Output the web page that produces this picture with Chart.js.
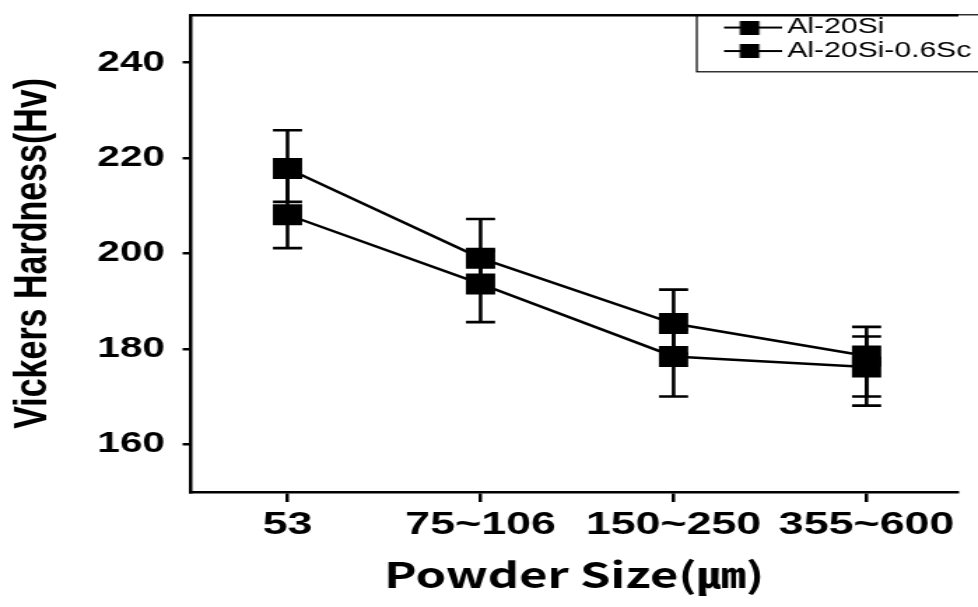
<!DOCTYPE html>
<html>
<head>
<meta charset="utf-8">
<script src="https://cdn.jsdelivr.net/npm/chart.js@4"></script>
<style>
  html, body { margin: 0; padding: 0; background: #fff; overflow: hidden; }
  #chart { display: block; }
</style>
</head>
<body>
<!-- 元図は横に引き伸ばされているので、狭いキャンバスをCSSで横に広げる -->
<canvas id="chart" width="699" height="607" style="width:978px;height:607px"></canvas>
<script>
// 粉末サイズ（カテゴリ）
const SIZES = ['53', '75~106', '150~250', '355~600'];
const Y_TICKS = [160, 180, 200, 220, 240];

// Al-20Si
const AL20SI = [208.1, 193.6, 178.4, 176.2];
const AL20SI_LO = [201.1, 185.6, 170.0, 168.1];
const AL20SI_HI = [216.0, 200.5, 184.0, 182.6];

// Al-20Si-0.6Sc
const AL20SI_SC = [217.8, 199.0, 185.3, 178.5];
const AL20SI_SC_LO = [210.8, 192.5, 179.0, 170.0];
const AL20SI_SC_HI = [225.8, 207.2, 192.4, 184.6];

const FONT = "'Liberation Sans', Arial, sans-serif";
const CAP = 10.4;

// 凡例用シンボル（線＋四角）
function legendSymbol() {
  const c = document.createElement('canvas');
  c.width = 47;
  c.height = 14;
  const g = c.getContext('2d');
  g.fillStyle = '#000';
  g.fillRect(0, 6, 47, 2);
  g.fillRect(16.5, 0, 14, 14);
  return c;
}
const SYMBOL = legendSymbol();

// エラーバー
const errorBars = {
  id: 'errorBars',
  beforeDatasetsDraw(chart) {
    const { ctx, scales: { x, y } } = chart;
    ctx.save();
    ctx.strokeStyle = '#000';
    ctx.lineWidth = 2.6;
    chart.data.datasets.forEach(ds => {
      ds.data.forEach((p, i) => {
        const px = x.getPixelForValue(p.x);
        const top = y.getPixelForValue(ds.hi[i]);
        const bot = y.getPixelForValue(ds.lo[i]);
        ctx.beginPath();
        ctx.moveTo(px, top); ctx.lineTo(px, bot);
        ctx.moveTo(px - CAP, top); ctx.lineTo(px + CAP, top);
        ctx.moveTo(px - CAP, bot); ctx.lineTo(px + CAP, bot);
        ctx.stroke();
      });
    });
    ctx.restore();
  },
};

// 凡例をグラフ右上へ移動し、枠を描く
const legendBox = {
  id: 'legendBox',
  afterLayout(chart) {
    const lg = chart.legend;
    const w = lg.width;
    lg.left = chart.width - 181.5;
    lg.right = lg.left + w;
    lg.top = chart.chartArea.top;
    lg.bottom = lg.top + lg.height;
  },
  afterDraw(chart) {
    const lg = chart.legend;
    const ctx = chart.ctx;
    ctx.save();
    ctx.strokeStyle = '#000';
    ctx.lineWidth = 1.2;
    ctx.strokeRect(lg.left - 19.5, chart.chartArea.top, 220, 57);
    ctx.restore();
  },
};

const pointOpts = {
  borderColor: '#000',
  backgroundColor: '#000',
  borderWidth: 2.5,
  pointStyle: 'rect',
  pointRadius: 14.8,
  pointHoverRadius: 14.8,
  pointBorderWidth: 0,
  tension: 0,
};

new Chart(document.getElementById('chart'), {
  type: 'line',
  data: {
    datasets: [
      {
        label: 'Al-20Si',
        data: AL20SI.map((v, i) => ({ x: i, y: v })),
        hi: AL20SI_HI,
        lo: AL20SI_LO,
        ...pointOpts,
      },
      {
        label: 'Al-20Si-0.6Sc',
        data: AL20SI_SC.map((v, i) => ({ x: i, y: v })),
        hi: AL20SI_SC_HI,
        lo: AL20SI_SC_LO,
        ...pointOpts,
      },
    ],
  },
  options: {
    responsive: false,
    animation: false,
    events: [],
    layout: { padding: 0 },
    scales: {
      x: {
        type: 'linear',
        min: -0.5,
        max: 3.47,
        afterBuildTicks: s => { s.ticks = SIZES.map((_, i) => ({ value: i })); },
        afterFit: s => { s.height = 115; s.paddingLeft = 0; s.paddingRight = 0; },
        border: { color: '#000', width: 2.5 },
        grid: { drawOnChartArea: false, color: '#000', lineWidth: 2.5, tickLength: 10 },
        ticks: {
          color: '#000',
          autoSkip: false,
          maxRotation: 0,
          padding: 4,
          font: { family: FONT, size: 32, weight: 'bold' },
          callback: v => SIZES[v],
        },
        title: {
          display: true,
          text: 'Powder Size(㎛)',
          color: '#000',
          font: { family: "'Noto Sans CJK KR', 'Noto Sans', sans-serif", size: 35, weight: 'bold' },
          padding: { top: 0, bottom: 11 },
        },
      },
      xTop: {
        type: 'linear',
        position: 'top',
        min: 0,
        max: 1,
        afterFit: s => { s.height = 12; },
        ticks: { display: false },
        grid: { display: false },
        border: { display: true, color: '#000', width: 2.5 },
      },
      y: {
        min: 150,
        max: 250,
        afterBuildTicks: s => { s.ticks = Y_TICKS.map(v => ({ value: v })); },
        afterFit: s => { s.width = 136.5; s.paddingTop = 0; s.paddingBottom = 0; },
        border: { color: '#000', width: 2.5 },
        grid: { drawOnChartArea: false, color: '#000', lineWidth: 2.5, tickLength: 6 },
        ticks: {
          color: '#000',
          padding: 12.5,
          font: { family: FONT, size: 29, weight: 'bold' },
        },
        title: {
          display: true,
          text: 'Vickers Hardness(Hv)',
          color: '#000',
          font: { family: FONT, size: 34, weight: 'bold' },
          padding: { top: 3.2, bottom: 0 },
        },
      },
    },
    plugins: {
      legend: {
        position: 'chartArea',
        align: 'start',
        labels: {
          usePointStyle: true,
          pointStyleWidth: 32.5,
          padding: 2,
          color: '#000',
          font: { family: FONT, size: 21.5 },
          generateLabels: chart => chart.data.datasets.map((ds, i) => ({
            text: ds.label,
            pointStyle: SYMBOL,
            datasetIndex: i,
            fillStyle: '#000',
            strokeStyle: '#000',
            lineWidth: 0,
            hidden: false,
          })),
        },
      },
      tooltip: { enabled: false },
    },
  },
  plugins: [errorBars, legendBox],
});
</script>
</body>
</html>
